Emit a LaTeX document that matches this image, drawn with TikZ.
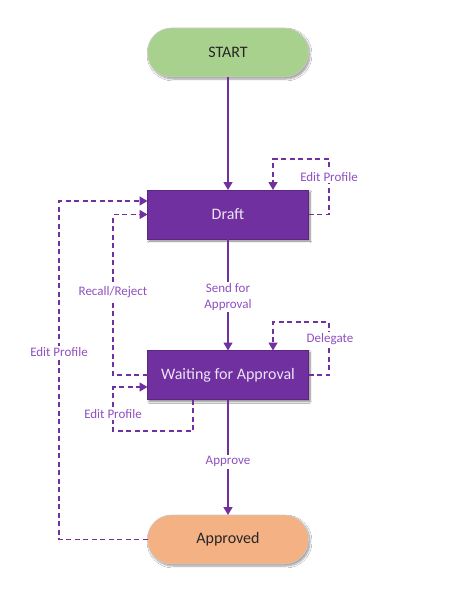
\documentclass[tikz,border=0pt]{standalone}
\usepackage{fontspec}
\setmainfont{Carlito}
\usetikzlibrary{arrows.meta,shadows.blur,calc}
\definecolor{pline}{HTML}{7030A0}
\definecolor{plabel}{HTML}{9050C0}
\definecolor{pbox}{HTML}{7030A0}
\definecolor{ptext}{HTML}{ECE4F4}
\definecolor{tgreen}{HTML}{A9D18E}
\definecolor{torange}{HTML}{F4B183}
\tikzset{
  x=1pt, y=-1pt,
  every node/.style={inner sep=0pt, outer sep=0pt},
  terminal/.style={draw=black!20, line width=0.6pt, rounded corners=24pt, minimum width=161pt, minimum height=49pt,
    font=\fontsize{16}{18}\selectfont, text=black!85,
    blur shadow={shadow xshift=1.5pt, shadow yshift=-2pt, shadow blur steps=6, shadow opacity=40}},
  stepbox/.style={fill=pbox, draw=pbox!80!black, line width=0.4pt, minimum width=161pt, minimum height=49pt,
    font=\fontsize{16}{18}\selectfont, text=ptext,
    blur shadow={shadow xshift=1.5pt, shadow yshift=-2pt, shadow blur steps=6, shadow opacity=50}},
  solidedge/.style={draw=pline, line width=1.4pt, -{Triangle[width=9pt,length=8pt]}},
  dashedge/.style={draw=pline, line width=1.4pt, dash pattern=on 5pt off 3.5pt, -{Triangle[width=9pt,length=8pt]}},
  lbl/.style={fill=white, text=plabel, font=\fontsize{13}{16}\selectfont, inner sep=1.5pt, align=center},
}
\begin{document}
\begin{tikzpicture}
\useasboundingbox (0,0) rectangle (450,599);
\fill[white] (0,0) rectangle (450,599);
\node[terminal, fill=tgreen] (start) at (228,52.5) {START};
\node[stepbox] (draft) at (228,214.5) {Draft};
\node[stepbox] (wait) at (228,375) {Waiting for Approval};
\node[terminal, fill=torange] (appr) at (228,539.5) {Approved};

\coordinate (d1) at (329,159);
\coordinate (w1) at (329,322);
\coordinate (o1) at (59,201);
\coordinate (i1) at (113,214.5);
\coordinate (b1) at (193,431);
\coordinate (b2) at (113,387);

% main flow
\draw[solidedge] (start) -- (draft);
\draw[solidedge] (draft) -- node[lbl, pos=0.52] (lsend) {Send for\\Approval} (wait);
\draw[solidedge] (wait) -- node[lbl, pos=0.54] (lappr) {Approve} (appr);

% loops
\draw[dashedge] (draft.east) -| (d1) -| ([xshift=45pt]draft.north);
\node[lbl] (ledit1) at (329,177) {Edit Profile};

\draw[dashedge] (wait.east) -| (w1) -| ([xshift=45pt]wait.north);
\node[lbl] (ldel) at (330,339) {Delegate};

\draw[dashedge] (appr.west) -| (o1) -- (o1 -| draft.west);
\node[lbl] (ledit2) at (59,352) {Edit Profile};

\draw[dashedge] (wait.west) -| (i1) -- (draft.west);
\node[lbl] (lrec) at (113,292) {Recall/Reject};

\draw[dashedge] (b1 |- wait.south) -- (b1) -| (b2) -- (b2 -| wait.west);
\node[lbl] (ledit3) at (113,414) {Edit Profile};
\end{tikzpicture}
\end{document}
